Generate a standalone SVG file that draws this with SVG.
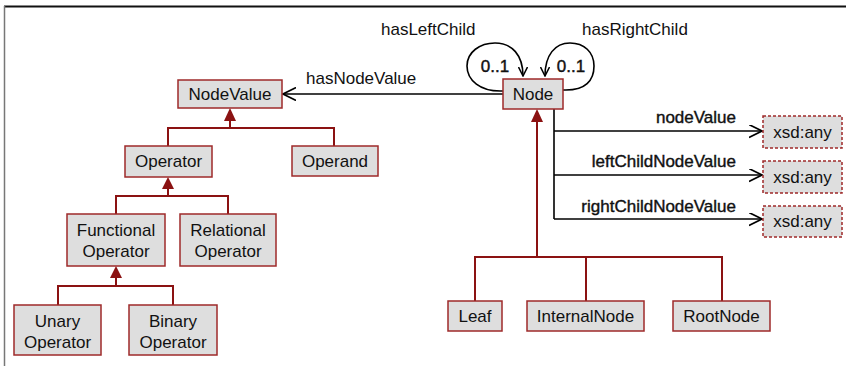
<svg xmlns="http://www.w3.org/2000/svg" width="846" height="366" viewBox="0 0 846 366">
<defs>
<style>
.box{fill:#dedede;stroke:#9e2a2a;stroke-width:1.5}
.dbox{fill:#dedede;stroke:#9e2a2a;stroke-width:1.5;stroke-dasharray:3,2}
.t{font-family:"Liberation Sans",Arial,sans-serif;font-size:17px;fill:#111;text-anchor:middle;dominant-baseline:central}
.lbl{font-family:"Liberation Sans",Arial,sans-serif;font-size:17px;fill:#111}
.bl{stroke:#111;stroke-width:0.4}
.inh{fill:none;stroke:#8b1212;stroke-width:2}
.tri{fill:#8b1212;stroke:none}
.asc{fill:none;stroke:#000;stroke-width:1.6}
</style>
<marker id="open" viewBox="0 0 14 14" refX="13" refY="6.5" markerWidth="14" markerHeight="14" markerUnits="userSpaceOnUse" orient="auto">
<path d="M0,0 L13,6.5 L0,13" fill="none" stroke="#000" stroke-width="1.6"/>
</marker>
<marker id="openS" viewBox="0 0 10 10" refX="9" refY="4.5" markerWidth="10" markerHeight="10" markerUnits="userSpaceOnUse" orient="auto">
<path d="M0,0 L9,4.5 L0,9" fill="none" stroke="#000" stroke-width="1.5"/>
</marker>
</defs>
<rect x="0" y="0" width="846" height="366" fill="#fff"/>
<line x1="4" y1="6.5" x2="846" y2="6.5" stroke="#111" stroke-width="2"/>
<line x1="4.5" y1="6" x2="4.5" y2="366" stroke="#777" stroke-width="1.5"/>

<g id="connectors">
<path class="inh" d="M168,146 V128 H334 V146 M230,128 V121"/>
<polygon class="tri" points="230,108 224,121 236,121"/>
<path class="inh" d="M116,214 V196 H228 V214 M168,196 V189"/>
<polygon class="tri" points="168,177 162,189 174,189"/>
<path class="inh" d="M58,305 V286 H173 V305 M116,286 V278"/>
<polygon class="tri" points="116,266 110,278 122,278"/>
<path class="inh" d="M475,301 V257 H722 V301 M586,257 V301 M537,257 V122"/>
<polygon class="tri" points="537,109 531,122 543,122"/>
<path class="asc" d="M503,94 H283" marker-end="url(#open)"/>
<text class="lbl" x="306" y="84">hasNodeValue</text>
<path class="asc" d="M503,91 C480,92 467,80 467,66 C467,52 480,43 495,43 C512,43 523,55 523,76" marker-end="url(#openS)"/>
<path class="asc" d="M563,90 C586,91 594,80 594,66 C594,52 584,43 570,43 C555,43 545,55 545,76" marker-end="url(#openS)"/>
<text class="lbl" x="381" y="35">hasLeftChild</text>
<text class="lbl" x="582" y="35">hasRightChild</text>
<text class="t bl" x="495" y="66">0..1</text>
<text class="t bl" x="571" y="66">0..1</text>
<path class="asc" d="M554,109 V219"/>
<path class="asc" d="M554,131 H762" marker-end="url(#open)"/>
<path class="asc" d="M554,175 H762" marker-end="url(#open)"/>
<path class="asc" d="M554,219 H762" marker-end="url(#open)"/>
<text class="lbl bl" x="736" y="123" text-anchor="end">nodeValue</text>
<text class="lbl bl" x="736" y="167" text-anchor="end">leftChildNodeValue</text>
<text class="lbl bl" x="736" y="212" text-anchor="end">rightChildNodeValue</text>
</g>

<g id="NodeValue"><rect class="box" x="178" y="80" width="104" height="28"/><text class="t" x="230" y="94">NodeValue</text></g>
<g id="Operator"><rect class="box" x="125" y="146" width="87" height="31"/><text class="t" x="168.5" y="161.5">Operator</text></g>
<g id="Operand"><rect class="box" x="292" y="146" width="86" height="30"/><text class="t" x="335" y="161">Operand</text></g>
<g id="FunctionalOperator"><rect class="box" x="67" y="214" width="98" height="52"/><text class="t" x="116" y="230">Functional</text><text class="t" x="116" y="251">Operator</text></g>
<g id="RelationalOperator"><rect class="box" x="180" y="214" width="96" height="52"/><text class="t" x="228" y="230">Relational</text><text class="t" x="228" y="251">Operator</text></g>
<g id="UnaryOperator"><rect class="box" x="14" y="305" width="87" height="50"/><text class="t" x="57.5" y="321">Unary</text><text class="t" x="57.5" y="342">Operator</text></g>
<g id="BinaryOperator"><rect class="box" x="129" y="305" width="88" height="50"/><text class="t" x="173" y="321">Binary</text><text class="t" x="173" y="342">Operator</text></g>
<g id="Node"><rect class="box" x="503" y="79" width="60" height="30"/><text class="t" x="533" y="94">Node</text></g>
<g id="Leaf"><rect class="box" x="448" y="301" width="54" height="30"/><text class="t" x="475" y="316">Leaf</text></g>
<g id="InternalNode"><rect class="box" x="527" y="301" width="117" height="30"/><text class="t" x="585.5" y="316">InternalNode</text></g>
<g id="RootNode"><rect class="box" x="673" y="301" width="97" height="30"/><text class="t" x="721.5" y="316">RootNode</text></g>
<g id="xsdany1"><rect class="dbox" x="763" y="116" width="79" height="32"/><text class="t" x="802.5" y="132">xsd:any</text></g>
<g id="xsdany2"><rect class="dbox" x="763" y="161" width="79" height="32"/><text class="t" x="802.5" y="177">xsd:any</text></g>
<g id="xsdany3"><rect class="dbox" x="763" y="206" width="79" height="31"/><text class="t" x="802.5" y="221.5">xsd:any</text></g>
</svg>
